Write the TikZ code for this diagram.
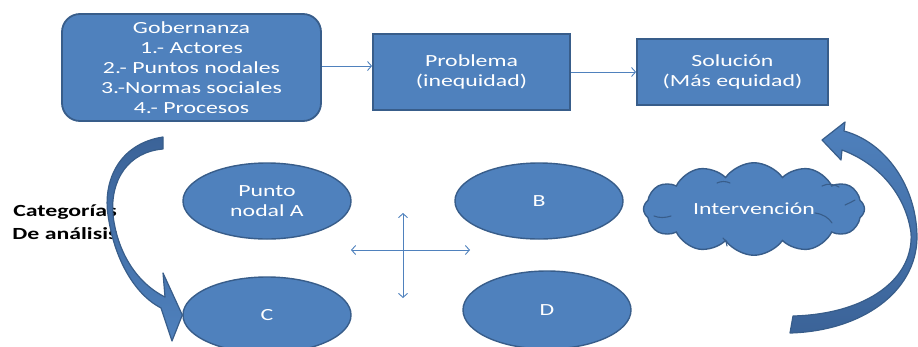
\documentclass[tikz,border=0pt]{standalone}
\usepackage{fontspec}
\setmainfont[FakeStretch=1.4]{Carlito}
\usetikzlibrary{arrows.meta,shapes.geometric,shapes.symbols}
\definecolor{fillblue}{HTML}{4F81BD}
\definecolor{edgeblue}{HTML}{385D8A}
\definecolor{deepblue}{HTML}{3B6398}
\begin{document}
\begin{tikzpicture}[x=1pt,y=-1pt,
  every node/.style={font=\fontsize{17}{20}\selectfont, text=white},
  box/.style={draw=edgeblue, fill=fillblue, line width=1.8pt, align=center, inner sep=0pt},
  blob/.style={ellipse, draw=edgeblue, fill=fillblue, line width=1.4pt,
    minimum width=168pt, minimum height=76pt, inner sep=0pt, align=center},
  link/.style={draw=fillblue, line width=0.9pt, -{Straight Barb[length=4pt,width=9pt]}},
  bigarrow/.style={draw=edgeblue, line width=1.2pt, line join=round},
  crease/.style={draw=edgeblue, line width=1.1pt, line cap=round}
]
\useasboundingbox (0,0) rectangle (918,346);

% top row
\node[box, rounded corners=18pt, minimum width=259pt, minimum height=107pt] (gob) at (191.5,67.5)
  {Gobernanza\\1.- Actores\\2.- Puntos nodales\\3.-Normas sociales\\4.- Procesos};
\node[box, minimum width=197pt, minimum height=76pt] (prob) at (471.5,72) {Problema\\(inequidad)};
\node[box, minimum width=191pt, minimum height=66pt] (sol) at (732.5,72) {Solución\\(Más equidad)};

\draw[link] (gob.east |- 0,66) -- (prob.west |- 0,66);
\draw[link] (prob.east) -- (sol.west);

% side label
\node[text=black, font=\fontsize{17}{23}\selectfont\bfseries, align=center] (cat) at (65,222)
  {Categorías\\De análisis};

% category ellipses
\node[blob] (a) at (267,201) {Punto\\nodal A};
\node[blob] (b) at (539,201) {B};
\node[blob] (c) at (267,315) {C};
\node[blob, minimum height=78pt] (d) at (547,310) {D};

% cross of double arrows
\coordinate (hl) at (351,250);
\coordinate (hr) at (470,250);
\coordinate (vt) at (403,213);
\coordinate (vb) at (403,298);
\draw[link, {Straight Barb[length=4pt,width=9pt]}-{Straight Barb[length=4pt,width=9pt]}] (hl) -- (hr);
\draw[link, {Straight Barb[length=4pt,width=9pt]}-{Straight Barb[length=4pt,width=9pt]}] (vt) -- (vb);

% intervention cloud with its inner creases
\node[cloud, cloud puffs=12, cloud puff arc=110, aspect=2.4, draw=edgeblue, fill=fillblue,
  line width=1.4pt, minimum width=221pt, minimum height=92pt, inner sep=0pt] (int) at (754,209) {Intervención};
\draw[crease] (654,216) .. controls (659,218) and (665,218) .. (671,216);
\draw[crease] (717,183) .. controls (721,181) and (726,181) .. (730,183);
\draw[crease] (822,186) .. controls (828,183) and (834,184) .. (839,187);
\draw[crease] (845,205) .. controls (849,203) and (852,202) .. (855,200);
\draw[crease] (815,213) .. controls (823,214) and (829,218) .. (832,223);
\draw[crease] (723,238) .. controls (726,241) and (727,243) .. (727,246);

% curved arrow on the left, down into C
\path[bigarrow, top color=deepblue, bottom color=fillblue]
  (163,137) .. controls (118,144) and (103,182) .. (108,215)
  .. controls (114,258) and (134,294) .. (161,308)
  -- (172,341) -- (c.west) -- (163,273) -- (165,297)
  .. controls (135,282) and (117,250) .. (113,215)
  .. controls (110,180) and (128,152) .. (163,149) -- cycle;

% curved arrow on the right, up towards the solution
\path[bigarrow, top color=fillblue, bottom color=deepblue]
  (790,333) .. controls (862,331) and (916,292) .. (917,238)
  .. controls (917,186) and (885,142) .. (844,131)
  -- (845,122) -- (822,140) -- (841,160) -- (842,150)
  .. controls (880,164) and (906,196) .. (911,233)
  .. controls (914,278) and (868,314) .. (793,316) -- cycle;
\end{tikzpicture}
\end{document}
